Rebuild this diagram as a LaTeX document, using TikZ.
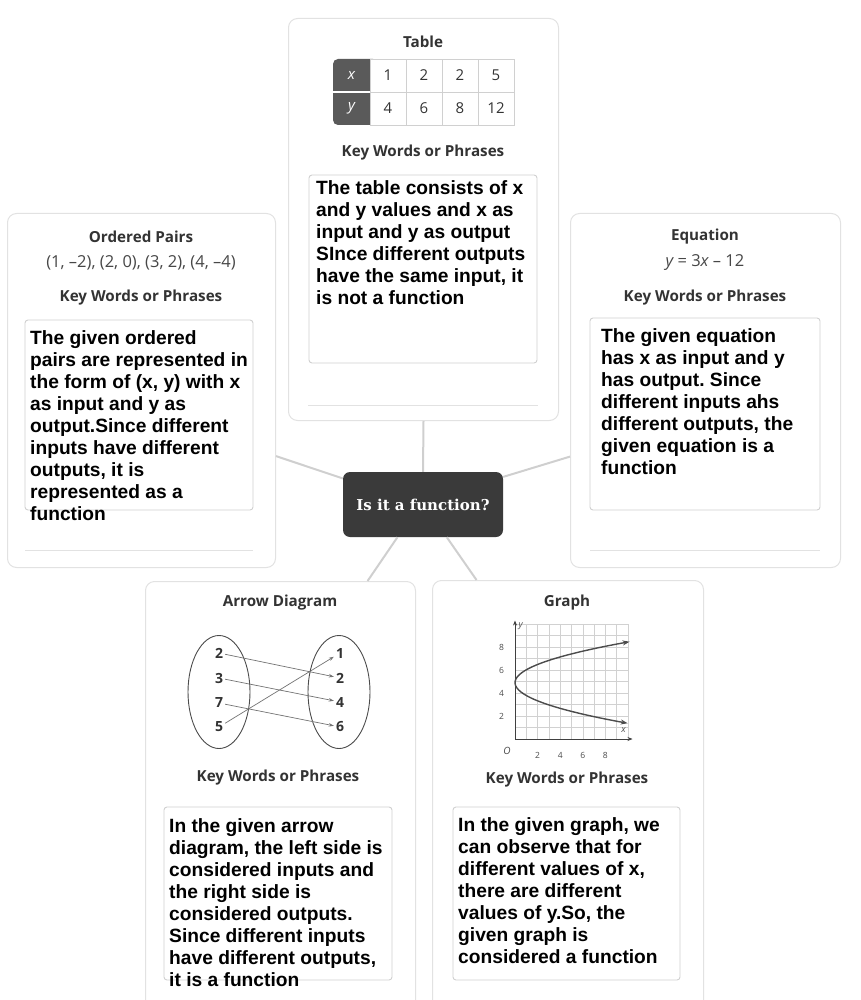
\documentclass[tikz,border=0pt]{standalone}
\usepackage{fontspec}
\setmainfont{Liberation Sans}
\newfontfamily\labelfont{Open Sans}
\newfontfamily\hubfont{DejaVu Serif}
\usetikzlibrary{shapes.geometric,arrows.meta}
\frenchspacing
\definecolor{cardline}{HTML}{E2E2E2}
\definecolor{boxline}{HTML}{D0D0D0}
\definecolor{linkgray}{HTML}{CFCFCF}
\definecolor{hubfill}{HTML}{3A3A3A}
\definecolor{headfill}{HTML}{5A5A5A}
\definecolor{titlegray}{HTML}{333333}
\tikzset{
  card/.style     = {shape=rectangle, rounded corners=9pt, draw=cardline,
                     line width=1pt, fill=white, anchor=north west, inner sep=0pt},
  keybox/.style   = {rounded corners=3pt, draw=boxline, line width=0.9pt, fill=white},
  answer/.style   = {anchor=north west, inner sep=0pt, align=left,
                     font=\bfseries\fontsize{19.2}{22}\selectfont},
  heading/.style  = {inner sep=0pt, text=titlegray,
                     font=\labelfont\bfseries\fontsize{15.2}{17}\selectfont},
  datatext/.style = {inner sep=0pt, text=titlegray!90,
                     font=\labelfont\fontsize{16.5}{18}\selectfont},
  hub/.style      = {shape=rectangle, rounded corners=7pt, fill=hubfill,
                     text=white, minimum width=160pt, minimum height=65pt,
                     font=\hubfont\bfseries\fontsize{15}{17}\selectfont},
  link/.style     = {draw=linkgray, line width=2pt},
  cell/.style     = {draw=boxline, line width=0.8pt, fill=white, inner sep=0pt,
                     minimum width=36pt, minimum height=33pt, text=titlegray,
                     font=\labelfont\fontsize{15}{17}\selectfont},
  headcell/.style = {inner sep=0pt, text=white,
                     font=\labelfont\itshape\fontsize{15}{17}\selectfont},
  setoval/.style  = {ellipse, draw=black!70, line width=0.9pt,
                     minimum width=62pt, minimum height=113pt},
  mapnum/.style   = {inner sep=2pt, text=titlegray,
                     font=\labelfont\bfseries\fontsize{14}{16}\selectfont},
  maparrow/.style = {draw=black!55, line width=0.7pt, -{Stealth[length=5pt,width=3.5pt]}},
  ticklabel/.style= {inner sep=0pt, text=black!70,
                     font=\labelfont\fontsize{8.5}{9}\selectfont}
}

\begin{document}
\begin{tikzpicture}[x=1pt, y=-1pt]
  \path[use as bounding box, clip] (0,0) rectangle (860,1000);

  % cards
  \node[card, minimum width=270pt, minimum height=402pt] (tablecard) at (288,18) {};
  \node[card, minimum width=268pt, minimum height=354pt] (pairscard) at (7,213) {};
  \node[card, minimum width=270pt, minimum height=354pt] (eqcard) at (570,213) {};
  \node[card, minimum width=270pt, minimum height=430pt] (arrowcard) at (145,581) {};
  \node[card, minimum width=271pt, minimum height=430pt] (graphcard) at (432,580) {};

  \node[hub] (hub) at (423,504.5) {Is it a function?};

  \draw[link] (hub.north) -- (tablecard.south);
  \draw[link] (hub.162) -- (pairscard.-26);
  \draw[link] (hub.19) -- (eqcard.206);
  \draw[link] (hub.-128) -- (arrowcard.68);
  \draw[link] (hub.-54) -- (graphcard.113);

  % table
  \node[heading] (tabletitle) at (423,42) {Table};
  \fill[headfill, rounded corners=5pt] (333,59) rectangle (378,125);
  \draw[white, line width=1.2pt] (333,92) -- (370,92);
  \node[headcell] (xhead) at (351.5,75.5) {x};
  \node[headcell] (yhead) at (351.5,108.5) {y};
  \foreach \xv/\yv [count=\i] in {1/4, 2/6, 2/8, 5/12} {
    \node[cell] (xv\i) at (352+36*\i,75.5) {\xv};
    \node[cell] (yv\i) at (352+36*\i,108.5) {\yv};
  }
  \node[heading] (tablekey) at (423,153) {Key Words or Phrases};
  \draw[keybox] (309,175) rectangle (537,363);
  \node[answer] (tabletext) at (316,180) {The table consists of x\\and y values and x as\\input and y as output\\SInce different outputs\\have the same input, it\\is not a function};
  \draw[cardline] (308,405) -- (538,405);

  % ordered pairs
  \node[heading] (pairstitle) at (141,237) {Ordered Pairs};
  \node[datatext] (pairslist) at (141,263) {(1, –2), (2, 0), (3, 2), (4, –4)};
  \node[heading] (pairskey) at (141,298) {Key Words or Phrases};
  \draw[keybox] (25,320) rectangle (253,510);
  \node[answer] (pairstext) at (30,330) {The given ordered\\pairs are represented in\\the form of (x, y) with x\\as input and y as\\output.Since different\\inputs have different\\outputs, it is\\represented as a\\function};
  \draw[cardline] (25,550) -- (253,550);

  % equation
  \node[heading] (eqtitle) at (705,237) {Equation};
  \node[datatext] (eqline) at (705,263) {\itshape y \upshape = 3\itshape x\upshape{} – 12};
  \node[heading] (eqkey) at (705,298) {Key Words or Phrases};
  \draw[keybox] (590,318) rectangle (820,510);
  \node[answer] (eqtext) at (601,328) {The given equation\\has x as input and y\\has output. Since\\different inputs ahs\\different outputs, the\\given equation is a\\function};
  \draw[cardline] (590,550) -- (820,550);

  % arrow diagram
  \node[heading] (arrowtitle) at (280,603) {Arrow Diagram};
  \node[setoval] (dom) at (219,692) {};
  \node[setoval] (cod) at (339,692) {};
  \foreach \v/\y [count=\i] in {2/653, 3/678, 7/703, 5/727}
    \node[mapnum] (in\i) at (219,\y) {\v};
  \foreach \v/\y [count=\i] in {1/653, 2/678, 4/702, 6/727}
    \node[mapnum] (out\i) at (340,\y) {\v};
  \foreach \a/\b in {1/2, 2/3, 3/4, 4/1}
    \draw[maparrow] (in\a) -- (out\b);
  \node[heading] (arrowkey) at (278,778) {Key Words or Phrases};
  \draw[keybox] (164,807) rectangle (392,980);
  \node[answer] (arrowtext) at (169,818) {In the given arrow\\diagram, the left side is\\considered inputs and\\the right side is\\considered outputs.\\Since different inputs\\have different outputs,\\it is a function};

  % graph
  \node[heading] (graphtitle) at (567,603) {Graph};
  \begin{scope}[shift={(515,739)}, x=11.3pt, y=11.5pt]
    \draw[black!18, line width=0.5pt, step=1] (0,0) grid (10,10);
    \draw[black!75, line width=1pt, -{Stealth[length=5pt,width=4pt]}] (0,0) -- (10.4,0);
    \draw[black!75, line width=1pt, -{Stealth[length=5pt,width=4pt]}] (0,0) -- (0,10.3);
    \draw[black!70, line width=1.4pt, {Stealth[length=7pt,width=5pt]}-{Stealth[length=7pt,width=5pt]}]
      plot[domain=1.37:8.46, smooth, samples=40, variable=\t] ({0.8*(\t-4.9)*(\t-4.9)}, \t);
    \foreach \v in {2,4,6,8} {
      \node[ticklabel] (xt\v) at (\v,-1.4) {\v};
      \node[ticklabel] (yt\v) at (-1.2,\v) {\v};
    }
    \node[ticklabel, font=\labelfont\itshape\fontsize{10}{11}\selectfont] (origin) at (-0.7,-1) {O};
    \node[ticklabel, font=\labelfont\itshape\fontsize{9}{10}\selectfont] (xlabel) at (9.6,0.8) {x};
    \node[ticklabel, font=\labelfont\itshape\fontsize{9}{10}\selectfont] (ylabel) at (0.5,9.8) {y};
  \end{scope}
  \node[heading] (graphkey) at (567,780) {Key Words or Phrases};
  \draw[keybox] (453,807) rectangle (680,980);
  \node[answer] (graphtext) at (458,817) {In the given graph, we\\can observe that for\\different values of x,\\there are different\\values of y.So, the\\given graph is\\considered a function};
\end{tikzpicture}
\end{document}
